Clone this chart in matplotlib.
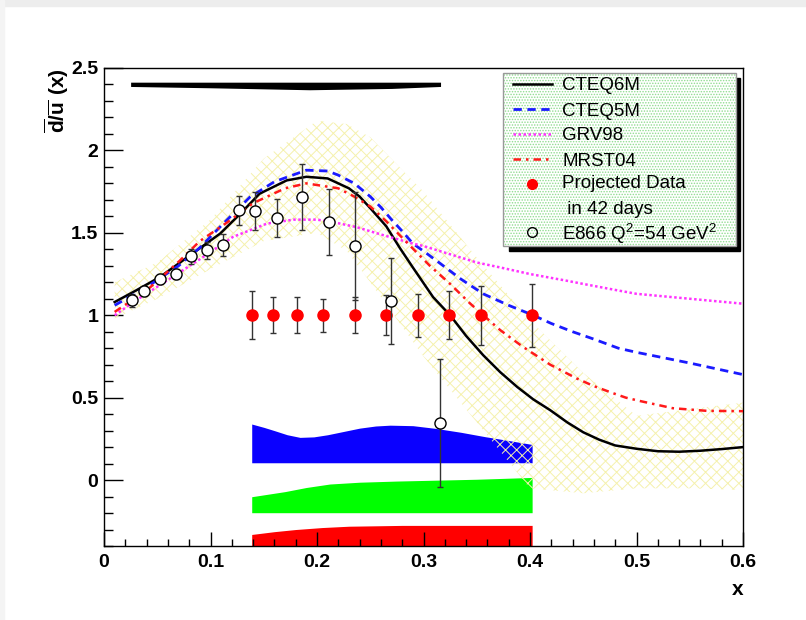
import matplotlib
matplotlib.use("Agg")
import matplotlib.pyplot as plt
from matplotlib.patches import Rectangle
from matplotlib.ticker import MultipleLocator, FuncFormatter

plt.rcParams["font.family"] = ["Liberation Sans", "DejaVu Sans"]
plt.rcParams["mathtext.fontset"] = "custom"
plt.rcParams["mathtext.rm"] = "Liberation Sans"
plt.rcParams["mathtext.bf"] = "Liberation Sans:bold"
plt.rcParams["hatch.linewidth"] = 0.7

# ---- model curves ----
cteq6_x = [0.01, 0.03, 0.0526, 0.0808, 0.109, 0.128, 0.146, 0.1715, 0.19, 0.21, 0.23, 0.24,
           0.25, 0.265, 0.278, 0.29, 0.309, 0.325, 0.34, 0.356, 0.372, 0.388, 0.403, 0.419,
           0.435, 0.45, 0.465, 0.48, 0.5, 0.52, 0.54, 0.56, 0.58, 0.6]
cteq6_y = [1.08, 1.15, 1.232, 1.364, 1.495, 1.616, 1.737, 1.818, 1.84, 1.83, 1.77, 1.72,
           1.65, 1.54, 1.406, 1.29, 1.11, 1.0, 0.875, 0.758, 0.655, 0.565, 0.49, 0.424,
           0.35, 0.29, 0.245, 0.21, 0.19, 0.175, 0.172, 0.178, 0.188, 0.2]

cteq5_x = [0.01, 0.04, 0.07, 0.09, 0.112, 0.137, 0.16, 0.19, 0.21, 0.22, 0.235, 0.25, 0.26,
           0.27, 0.28, 0.29, 0.303, 0.3155, 0.335, 0.356, 0.38, 0.403, 0.42, 0.44, 0.46,
           0.483, 0.5, 0.55, 0.6]
cteq5_y = [1.06, 1.17, 1.3, 1.41, 1.556, 1.717, 1.81, 1.88, 1.875, 1.85, 1.80, 1.72, 1.655,
           1.58, 1.51, 1.435, 1.375, 1.315, 1.22, 1.13, 1.06, 1.0, 0.95, 0.9, 0.855,
           0.8, 0.775, 0.71, 0.64]

grv98_x = [0.01, 0.03, 0.059, 0.09, 0.121, 0.153, 0.178, 0.2, 0.215, 0.237, 0.26, 0.29,
           0.3, 0.35, 0.372, 0.4, 0.434, 0.45, 0.483, 0.5, 0.55, 0.6]
grv98_y = [1.0, 1.09, 1.21, 1.34, 1.475, 1.556, 1.58, 1.58, 1.565, 1.535, 1.49, 1.435,
           1.42, 1.32, 1.29, 1.25, 1.21, 1.19, 1.15, 1.13, 1.10, 1.07]

mrst04_x = [0.01, 0.04, 0.071, 0.09, 0.115, 0.14, 0.17, 0.19, 0.22, 0.235, 0.25, 0.265,
            0.28, 0.306, 0.325, 0.344, 0.372, 0.393, 0.419, 0.444, 0.46, 0.478, 0.49,
            0.503, 0.534, 0.566, 0.6]
mrst04_y = [1.02, 1.15, 1.33, 1.45, 1.56, 1.68, 1.77, 1.80, 1.77, 1.72, 1.66, 1.57,
            1.47, 1.30, 1.19, 1.07, 0.91, 0.81, 0.70, 0.616, 0.57, 0.527, 0.50,
            0.48, 0.436, 0.42, 0.418]

# CTEQ6M uncertainty band
band_x = [0.01, 0.05, 0.1, 0.15, 0.2, 0.228, 0.25, 0.3, 0.35, 0.4, 0.45, 0.5, 0.55, 0.6]
band_lo = [0.98, 1.1, 1.28, 1.45, 1.5, 1.39, 1.2, 0.75, 0.35, -0.05, -0.08, -0.05, -0.05, -0.06]
band_hi = [1.2, 1.32, 1.58, 1.95, 2.18, 2.16, 2.08, 1.75, 1.35, 0.97, 0.65, 0.39, 0.43, 0.47]

# ---- E866 data ----
e866_x = [0.026, 0.0378, 0.0526, 0.0676, 0.0817, 0.0967, 0.112, 0.127, 0.142, 0.162,
          0.186, 0.2116, 0.236, 0.2695, 0.3155]
e866_y = [1.091, 1.145, 1.218, 1.25, 1.358, 1.394, 1.426, 1.636, 1.632, 1.59,
          1.72, 1.565, 1.42, 1.087, 0.347]
e866_err = [0.04, 0.03, 0.03, 0.03, 0.045, 0.05, 0.067, 0.09, 0.116, 0.116,
            0.2, 0.2, 0.33, 0.26, 0.39]
# E866 systematic bar
e866_sys_x = [0.025, 0.1, 0.193, 0.27, 0.316]
e866_sys_hi = [2.414, 2.414, 2.414, 2.414, 2.414]
e866_sys_lo = [2.388, 2.38, 2.368, 2.376, 2.388]

# ---- projected data ----
proj_x = [0.139, 0.159, 0.181, 0.206, 0.236, 0.265, 0.295, 0.324, 0.354, 0.402]
proj_y = [1.0, 1.0, 1.0, 1.0, 1.0, 1.0, 1.0, 1.0, 1.0, 1.0]
proj_err = [0.146, 0.11, 0.11, 0.1, 0.11, 0.12, 0.13, 0.146, 0.18, 0.19]

# ---- systematic bands at the bottom ----
blue_x = [0.1387, 0.15, 0.16, 0.172, 0.184, 0.197, 0.21, 0.225, 0.24, 0.255, 0.2686, 0.29,
          0.312, 0.335, 0.358, 0.38, 0.402]
blue_top = [0.34, 0.32, 0.30, 0.275, 0.259, 0.262, 0.275, 0.295, 0.315, 0.328, 0.333, 0.33,
            0.313, 0.29, 0.263, 0.24, 0.216]
blue_bot = 0.105
green_x = [0.1387, 0.17, 0.19, 0.212, 0.24, 0.275, 0.35, 0.402]
green_top = [-0.101, -0.07, -0.045, -0.024, -0.013, -0.006, 0.005, 0.016]
green_bot = -0.198
red_x = [0.1387, 0.16, 0.18, 0.205, 0.23, 0.28, 0.402]
red_top = [-0.33, -0.313, -0.30, -0.288, -0.28, -0.275, -0.275]
red_bot = -0.4

fig = plt.figure(figsize=(8.06, 6.2), dpi=100)
# faint screenshot frame
fig.patches.append(Rectangle((0, 1 - 6 / 620), 1, 6 / 620, transform=fig.transFigure,
                             color="#ededed", zorder=0))
fig.patches.append(Rectangle((0, 0), 4 / 806, 1, transform=fig.transFigure,
                             color="#f4f4f4", zorder=0))

ax = fig.add_axes([104 / 806, 1 - 546 / 620, 639 / 806, 478 / 620])
ax.set_xlim(0, 0.6)
ax.set_ylim(-0.4, 2.5)

ax.fill_between(blue_x, blue_top, blue_bot, color="#0a00ff", lw=0, zorder=1)
ax.fill_between(green_x, green_top, green_bot, color="#00ff00", lw=0, zorder=1)
ax.fill_between(red_x, red_top, red_bot, color="#ff0000", lw=0, zorder=1)

ax.fill_between(band_x, band_lo, band_hi, facecolor="none", edgecolor="#f5f1ad",
                hatch="xxx", lw=0, zorder=2)

ax.fill_between(e866_sys_x, e866_sys_lo, e866_sys_hi, color="black", lw=0, zorder=3)

ax.plot(cteq6_x, cteq6_y, color="black", lw=1.8, zorder=3, solid_joinstyle="round")
ax.plot(cteq5_x, cteq5_y, color="#1a1aff", lw=2.0, ls=(0, (3, 2)), zorder=3)
ax.plot(grv98_x, grv98_y, color="#ff33ff", lw=1.8, ls=(0, (1, 1)), zorder=3)
ax.plot(mrst04_x, mrst04_y, color="#ff1a1a", lw=1.8, ls=(0, (3, 2, 1, 2)), zorder=3)

ax.errorbar(proj_x, proj_y, yerr=proj_err, fmt="o", color="red", ms=8,
            ecolor="#333333", elinewidth=1, capsize=2.5, zorder=4)
ax.errorbar(e866_x, e866_y, yerr=e866_err, fmt="o", mfc="white", mec="black", mew=1,
            ms=8, ecolor="#333333", elinewidth=1, capsize=2.5, zorder=5)

# axes styling (ROOT look)
ax.xaxis.set_major_locator(MultipleLocator(0.1))
ax.xaxis.set_minor_locator(MultipleLocator(0.02))
ax.yaxis.set_major_locator(MultipleLocator(0.5))
ax.yaxis.set_minor_locator(MultipleLocator(0.1))
fmt = FuncFormatter(lambda v, p: f"{v:g}")
ax.xaxis.set_major_formatter(fmt)
ax.yaxis.set_major_formatter(fmt)
ax.tick_params(axis="both", which="both", direction="in", top=False, right=False,
               labelsize=14, width=1)
ax.tick_params(axis="y", which="major", length=13.5, pad=4)
ax.tick_params(axis="y", which="minor", length=6.5)
ax.tick_params(axis="x", which="major", length=10, pad=6)
ax.tick_params(axis="x", which="minor", length=5)
for lab in ax.get_xticklabels() + ax.get_yticklabels():
    lab.set_fontweight("bold")
for sp in ax.spines.values():
    sp.set_linewidth(1.0)

ax.set_xlabel("x", fontsize=15, fontweight="bold", loc="right", labelpad=6)
ax.set_ylabel(r"$\mathbf{\overline{d}/\overline{u}\ (x)}$", fontsize=15, loc="top",
              labelpad=0)

# ---- legend box, drawn by hand in axes fraction ----
def fx(px):
    return (px - 104) / 639


def fy(py):
    return (546 - py) / 478


L, R, T, B = 503, 736, 73, 246
ax.add_patch(Rectangle((fx(L + 6), fy(B + 5)), fx(R + 4) - fx(L + 6), fy(T + 5) - fy(B + 5),
                       transform=ax.transAxes, color="black", zorder=9, clip_on=False))
ax.add_patch(Rectangle((fx(L), fy(B)), fx(R) - fx(L), fy(T) - fy(B), transform=ax.transAxes,
                       facecolor="white", edgecolor="#8fdc8f", hatch="......", lw=0,
                       zorder=10, clip_on=False))
ax.add_patch(Rectangle((fx(L), fy(B)), fx(R) - fx(L), fy(T) - fy(B), transform=ax.transAxes,
                       fill=False, edgecolor="#999999", lw=1, zorder=11, clip_on=False))

xs = [fx(513), fx(552)]
tx = fx(562)
ax.plot(xs, [fy(84)] * 2, transform=ax.transAxes, color="black", lw=1.8, zorder=12)
ax.plot(xs, [fy(109)] * 2, transform=ax.transAxes, color="#1a1aff", lw=2.0,
        ls=(0, (3, 2)), zorder=12)
ax.plot(xs, [fy(134)] * 2, transform=ax.transAxes, color="#ff33ff", lw=1.8,
        ls=(0, (1, 1)), zorder=12)
ax.plot(xs, [fy(159)] * 2, transform=ax.transAxes, color="#ff1a1a", lw=1.8,
        ls=(0, (3, 2, 1, 2)), zorder=12)
ax.plot([fx(532)], [fy(184)], "o", transform=ax.transAxes, color="red", ms=7, zorder=12)
ax.plot([fx(532)], [fy(232)], "o", transform=ax.transAxes, mfc="none", mec="black",
        ms=7, zorder=12)

leg_labels = ["CTEQ6M", "CTEQ5M", "GRV98", "MRST04", "Projected Data", " in 42 days",
              r"E866 Q$^2$=54 GeV$^2$"]
leg_y = [86, 111, 136, 161, 184, 209, 234]
for lab, yy in zip(leg_labels, leg_y):
    ax.text(tx, fy(yy), lab, transform=ax.transAxes, fontsize=13.5, va="center",
            ha="left", zorder=12)

fig.savefig("out.png", dpi=100)
